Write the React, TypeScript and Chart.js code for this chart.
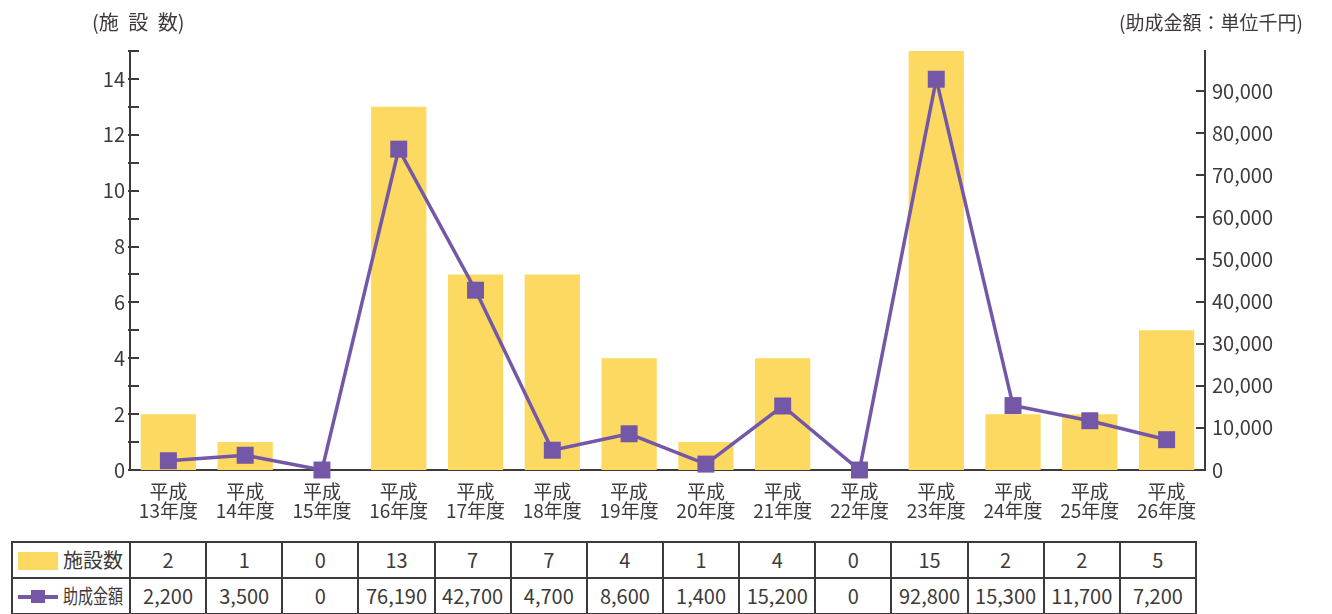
import React, { useEffect, useRef } from 'react';
import { Chart, registerables } from 'chart.js';

Chart.register(...registerables);

const years = ['13', '14', '15', '16', '17', '18', '19', '20', '21', '22', '23', '24', '25', '26'];
const categoryLabels = years.map((y) => ['平成', `${y}年度`]);
const facilityCounts = [2, 1, 0, 13, 7, 7, 4, 1, 4, 0, 15, 2, 2, 5];
const grantAmounts = [2200, 3500, 0, 76190, 42700, 4700, 8600, 1400, 15200, 0, 92800, 15300, 11700, 7200];
const seriesNames = ['施設数', '助成金額'];
const leftAxisTitle = '(施 設 数)';
const rightAxisTitle = '(助成金額：単位千円)';
const leftTickValues = [0, 1, 2, 3, 4, 5, 6, 7, 8, 9, 10, 11, 12, 13, 14, 15];
const rightTickValues = [0, 10000, 20000, 30000, 40000, 50000, 60000, 70000, 80000, 90000];
const leftMax = 15;
const rightMax = 99500;

const BAR = '#FCD960';
const LINE = '#7457A6';
const INK = '#3E3A39';
const FONT = "'Noto Sans CJK JP', 'Noto Sans', sans-serif";

const fmt = (v: number) => v.toLocaleString('en-US');

const inwardTicks = {
  id: 'inwardTicks',
  afterDraw(chart: any) {
    const ctx = chart.ctx;
    const { left, right } = chart.chartArea;
    ctx.save();
    ctx.strokeStyle = INK;
    ctx.lineWidth = 2;
    leftTickValues.forEach((v) => {
      const y = Math.round(chart.scales.y.getPixelForValue(v));
      ctx.beginPath();
      ctx.moveTo(left - 2, y);
      ctx.lineTo(left + 9, y);
      ctx.stroke();
    });
    rightTickValues.forEach((v) => {
      if (v === 0) return;
      const y = Math.round(chart.scales.y1.getPixelForValue(v));
      ctx.beginPath();
      ctx.moveTo(right - 9, y);
      ctx.lineTo(right + 1, y);
      ctx.stroke();
    });
    ctx.restore();
  },
};

export default function App() {
  const ref = useRef<HTMLCanvasElement>(null);

  useEffect(() => {
    if (!ref.current) return;
    Chart.defaults.font.family = FONT;
    Chart.defaults.color = INK;
    const chart = new Chart(ref.current, {
      type: 'bar',
      data: {
        labels: categoryLabels,
        datasets: [
          {
            type: 'line',
            label: seriesNames[1],
            data: grantAmounts,
            yAxisID: 'y1',
            borderColor: LINE,
            backgroundColor: LINE,
            borderWidth: 3.5,
            pointStyle: 'rect',
            pointRadius: 12,
            pointBorderWidth: 0,
            clip: false,
            order: 1,
          } as any,
          {
            type: 'bar',
            label: seriesNames[0],
            data: facilityCounts,
            yAxisID: 'y',
            backgroundColor: BAR,
            barPercentage: 0.72,
            categoryPercentage: 1,
            order: 2,
          },
        ],
      },
      options: {
        responsive: false,
        animation: false,
        devicePixelRatio: 1,
        layout: { padding: { top: 51, left: 0, right: 0, bottom: 0 } },
        plugins: { legend: { display: false }, tooltip: { enabled: false } },
        scales: {
          x: {
            grid: { display: false, drawTicks: false },
            border: { display: true, color: INK, width: 2 },
            ticks: { font: { size: 19, lineHeight: 1 }, color: INK, padding: 12, maxRotation: 0, autoSkip: false },
            afterFit: (s: any) => { s.height = 65; },
          },
          y: {
            position: 'left',
            min: 0,
            max: leftMax,
            grid: { display: false, drawTicks: false },
            border: { display: true, color: INK, width: 2 },
            afterBuildTicks: (s: any) => { s.ticks = leftTickValues.map((v) => ({ value: v })); },
            ticks: {
              autoSkip: false,
              padding: 5,
              font: { size: 20 },
              color: INK,
              callback: (v: any) => (v % 2 === 0 ? String(v) : ''),
            },
            afterFit: (s: any) => { s.width = 130; },
          },
          y1: {
            position: 'right',
            min: 0,
            max: rightMax,
            grid: { display: false, drawTicks: false },
            border: { display: true, color: INK, width: 2 },
            afterBuildTicks: (s: any) => { s.ticks = rightTickValues.map((v) => ({ value: v })); },
            ticks: {
              autoSkip: false,
              padding: 7,
              font: { size: 20 },
              color: INK,
              callback: (v: any) => fmt(Number(v)),
            },
            afterFit: (s: any) => { s.width = 127; },
          },
        },
      },
      plugins: [inwardTicks],
    });
    return () => chart.destroy();
  }, []);

  const colW = (1196 - 130) / years.length;
  const vLines = [12, 130, ...years.map((_, i) => 130 + colW * (i + 1))];
  const hLines = [542, 578, 614];
  const text: React.CSSProperties = {
    position: 'absolute',
    fontFamily: FONT,
    fontSize: 20,
    color: INK,
    lineHeight: '36px',
    height: 36,
    textAlign: 'center',
    whiteSpace: 'nowrap',
  };

  return (
    <div style={{ position: 'absolute', left: 0, top: 0, width: 1332, height: 614, overflow: 'hidden', background: '#fff' }}>
      <canvas ref={ref} width={1332} height={535} style={{ position: 'absolute', left: 0, top: 0, width: 1332, height: 535 }} />
      <div style={{ ...text, left: 92, top: 4, textAlign: 'left', fontSize: 20, wordSpacing: 5 }}>{leftAxisTitle}</div>
      <div style={{ ...text, left: 1119, top: 4, textAlign: 'left', fontSize: 19 }}>{rightAxisTitle}</div>
      {vLines.map((x, i) => (
        <div key={'v' + i} style={{ position: 'absolute', left: Math.round(x) - 1, top: 541, width: 2, height: 74, background: INK }} />
      ))}
      {hLines.map((y, i) => (
        <div key={'h' + i} style={{ position: 'absolute', left: 11, top: y - 1, width: 1186, height: 2, background: INK }} />
      ))}
      <div style={{ position: 'absolute', left: 18, top: 552, width: 40, height: 18, background: BAR }} />
      <div style={{ ...text, left: 63, top: 542, textAlign: 'left' }}>{seriesNames[0]}</div>
      <div style={{ position: 'absolute', left: 18, top: 595, width: 40, height: 3.5, background: LINE }} />
      <div style={{ position: 'absolute', left: 31, top: 590, width: 14, height: 13, background: LINE }} />
      <div style={{ ...text, left: 63, top: 578, textAlign: 'left', transform: 'scaleX(0.75)', transformOrigin: 'left center' }}>{seriesNames[1]}</div>
      {facilityCounts.map((v, i) => (
        <div key={'f' + i} style={{ ...text, left: 130 + colW * i, top: 542, width: colW }}>{fmt(v)}</div>
      ))}
      {grantAmounts.map((v, i) => (
        <div key={'g' + i} style={{ ...text, left: 130 + colW * i, top: 578, width: colW }}>{fmt(v)}</div>
      ))}
    </div>
  );
}
